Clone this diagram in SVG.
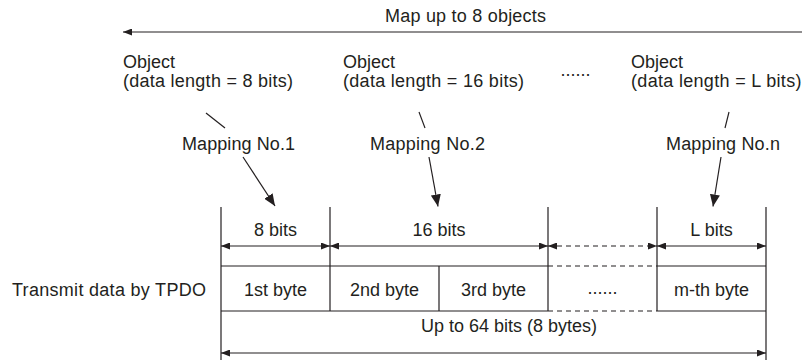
<svg xmlns="http://www.w3.org/2000/svg" width="802" height="360" viewBox="0 0 802 360">
<style>
  text { font-family: "Liberation Sans", Arial, sans-serif; font-size: 18px; fill: #231f20; }
  .m { text-anchor: middle; }
  .ln { stroke: #231f20; stroke-width: 1.2; fill: none; }
  .dash { stroke-dasharray: 5 4; }
  .dim { marker-start: url(#ah); marker-end: url(#ah); }
  .map { marker-end: url(#ahb); }
</style>
<defs>
  <marker id="ah" viewBox="0 0 9 7" refX="9" refY="3.5" markerWidth="9" markerHeight="7" markerUnits="userSpaceOnUse" orient="auto-start-reverse">
    <path d="M0,0 L9,3.5 L0,7 Z" fill="#231f20"/>
  </marker>
  <marker id="ahb" viewBox="0 0 12 10" refX="12" refY="5" markerWidth="12" markerHeight="10" markerUnits="userSpaceOnUse" orient="auto">
    <path d="M0,0 L12,5 L0,10 Z" fill="#231f20"/>
  </marker>
</defs>
<rect width="802" height="360" fill="#ffffff"/>

<g id="title">
  <text x="385" y="22" textLength="161">Map up to 8 objects</text>
</g>

<g id="object1">
  <text x="123" y="68">Object</text>
  <text x="123" y="87" textLength="170">(data length = 8 bits)</text>
</g>
<g id="object2">
  <text x="343" y="68">Object</text>
  <text x="343" y="87" textLength="181">(data length = 16 bits)</text>
</g>
<g id="object-ellipsis">
  <text class="m" x="575.5" y="76">......</text>
</g>
<g id="objectN">
  <text x="631" y="68">Object</text>
  <text x="631" y="87" textLength="170.5">(data length = L bits)</text>
</g>

<g id="mapping1"><text x="182" y="150" textLength="113">Mapping No.1</text></g>
<g id="mapping2"><text x="370" y="150" textLength="115">Mapping No.2</text></g>
<g id="mappingN"><text x="666" y="150" textLength="114">Mapping No.n</text></g>

<g id="field-8bits">
  <text class="m" x="275.5" y="236">8 bits</text>
</g>
<g id="field-16bits">
  <text class="m" x="439" y="236">16 bits</text>
</g>
<g id="field-Lbits">
  <text class="m" x="711.5" y="236">L bits</text>
</g>

<g id="row-label">
  <text x="12" y="296" textLength="194">Transmit data by TPDO</text>
</g>
<g id="byte1"><text class="m" x="275.5" y="296">1st byte</text></g>
<g id="byte2"><text class="m" x="384.5" y="296">2nd byte</text></g>
<g id="byte3"><text class="m" x="493.5" y="296">3rd byte</text></g>
<g id="byte-ellipsis"><text class="m" x="602.5" y="294">......</text></g>
<g id="byteM"><text class="m" x="711.5" y="296">m-th byte</text></g>

<g id="total">
  <text class="m" x="509" y="332">Up to 64 bits (8 bytes)</text>
</g>

<g id="connectors">
  <!-- top span arrow -->
  <line class="ln dim" x1="123" y1="32" x2="812" y2="32"/>
  <!-- leader lines from objects -->
  <line class="ln" x1="206" y1="113" x2="225" y2="128"/>
  <line class="ln" x1="419" y1="112" x2="425" y2="128"/>
  <line class="ln" x1="729" y1="112" x2="725" y2="128"/>
  <!-- mapping arrows -->
  <line class="ln map" x1="243" y1="157" x2="275" y2="206"/>
  <line class="ln map" x1="429" y1="157" x2="438" y2="206.5"/>
  <line class="ln map" x1="721" y1="157" x2="713" y2="206.5"/>
  <!-- verticals -->
  <line class="ln" x1="221" y1="207" x2="221" y2="360"/>
  <line class="ln" x1="330" y1="207" x2="330" y2="311"/>
  <line class="ln" x1="439" y1="266" x2="439" y2="311"/>
  <line class="ln" x1="548" y1="207" x2="548" y2="311"/>
  <line class="ln" x1="657" y1="207" x2="657" y2="311"/>
  <line class="ln" x1="766" y1="207" x2="766" y2="360"/>
  <!-- table horizontals -->
  <line class="ln" x1="221" y1="266" x2="548" y2="266"/>
  <line class="ln" x1="221" y1="311" x2="548" y2="311"/>
  <line class="ln" x1="657" y1="266" x2="766" y2="266"/>
  <line class="ln" x1="657" y1="311" x2="766" y2="311"/>
  <line class="ln dash" x1="548" y1="266" x2="657" y2="266"/>
  <line class="ln dash" x1="548" y1="311" x2="657" y2="311"/>
  <!-- dimension arrows -->
  <line class="ln dim" x1="221" y1="246" x2="330" y2="246"/>
  <line class="ln dim" x1="330" y1="246" x2="548" y2="246"/>
  <line class="ln dim dash" x1="548" y1="246" x2="657" y2="246"/>
  <line class="ln dim" x1="657" y1="246" x2="766" y2="246"/>
  <!-- bottom total arrow -->
  <line class="ln dim" x1="221" y1="353" x2="766" y2="353"/>
</g>
</svg>
